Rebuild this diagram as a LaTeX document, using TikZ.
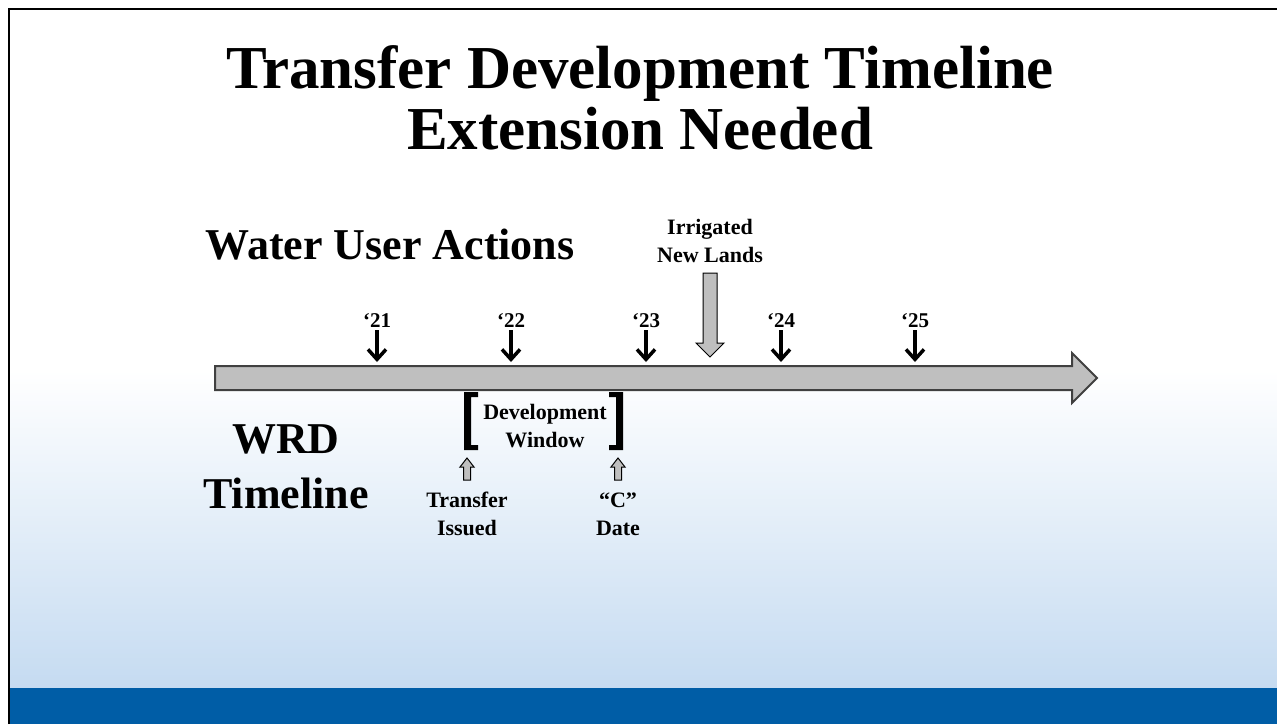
\documentclass[tikz,border=0pt]{standalone}
\usepackage{fontspec}
\setmainfont{Liberation Serif}
\usetikzlibrary{arrows.meta}

\definecolor{bargray}{HTML}{BFBFBF}
\definecolor{baredge}{HTML}{404040}
\definecolor{paleblue}{HTML}{C5DBF1}
\definecolor{bandblue}{HTML}{005DA6}

\tikzset{
  titletext/.style={font=\fontsize{61}{61}\selectfont\bfseries, align=center, inner sep=0pt},
  headtext/.style={font=\fontsize{44}{55}\selectfont\bfseries, align=center, inner sep=0pt},
  smalllab/.style={font=\fontsize{22}{28}\selectfont\bfseries, align=center, inner sep=0pt},
  yearlab/.style={font=\fontsize{21}{24}\selectfont\bfseries, inner sep=0pt},
  yeartick/.style={line width=3.5pt, -{Straight Barb[length=10pt,width=18pt]}, shorten <=2pt},
  blockarr/.style={fill=bargray, draw=black, line width=1pt, line join=miter},
  brack/.style={fill=black}
}

\begin{document}
\begin{tikzpicture}[x=1pt,y=-1pt]
    \useasboundingbox (0,0) rectangle (1277,724);

    % slide background
    \fill[white] (0,0) rectangle (1277,724);
    \shade[top color=white, bottom color=paleblue] (9,370) rectangle (1277,688);
    \fill[bandblue] (9,688) rectangle (1277,724);
    \draw[line width=2.5pt] (9,724) -- (9,9) -- (1277,9);

    % headings
    \node[titletext] (title) at (640,98) {Transfer Development Timeline\\Extension Needed};
    \node[headtext] (water) at (390,245) {Water User Actions};
    \node[headtext] (wrd) at (286,467) {WRD\\Timeline};

    % main timeline arrow
    \draw[fill=bargray, draw=baredge, line width=2pt]
        (215,366) -- (1072,366) -- (1072,353) -- (1097,378)
        -- (1072,403) -- (1072,390) -- (215,390) -- cycle;

    % years
    \foreach \yr/\x in {21/377,22/511,23/646,24/781,25/915}{
        \node[yearlab] (y\yr) at (\x,321) {`\yr};
        \coordinate (t\yr) at (\x,362);
        \draw[yeartick] (y\yr.south) -- (t\yr);
    }

    % irrigated new lands
    \node[smalllab] (irr) at (710,241) {Irrigated\\New Lands};
    \draw[blockarr] (703,273) -- (717,273) -- (717,343) -- (724,343)
        -- (710,357) -- (696,343) -- (703,343) -- cycle;

    % development window
    \node[smalllab] (devwin) at (545,426) {Development\\Window};
    \fill[brack] (464,392) -- (478,392) -- (478,397) -- (471,397) -- (471,445)
        -- (478,445) -- (478,450) -- (464,450) -- cycle;
    \fill[brack] (623,392) -- (609,392) -- (609,397) -- (616,397) -- (616,445)
        -- (609,445) -- (609,450) -- (623,450) -- cycle;

    % transfer issued and C date
    \node[smalllab] (issued) at (467,514) {Transfer\\Issued};
    \node[smalllab] (cdate) at (618,514) {``C''\\Date};
    \foreach \x in {467,618}{
        \draw[blockarr] (\x,458) -- (\x+7,467) -- (\x+3.5,467) -- (\x+3.5,480)
            -- (\x-3.5,480) -- (\x-3.5,467) -- (\x-7,467) -- cycle;
    }
\end{tikzpicture}
\end{document}
